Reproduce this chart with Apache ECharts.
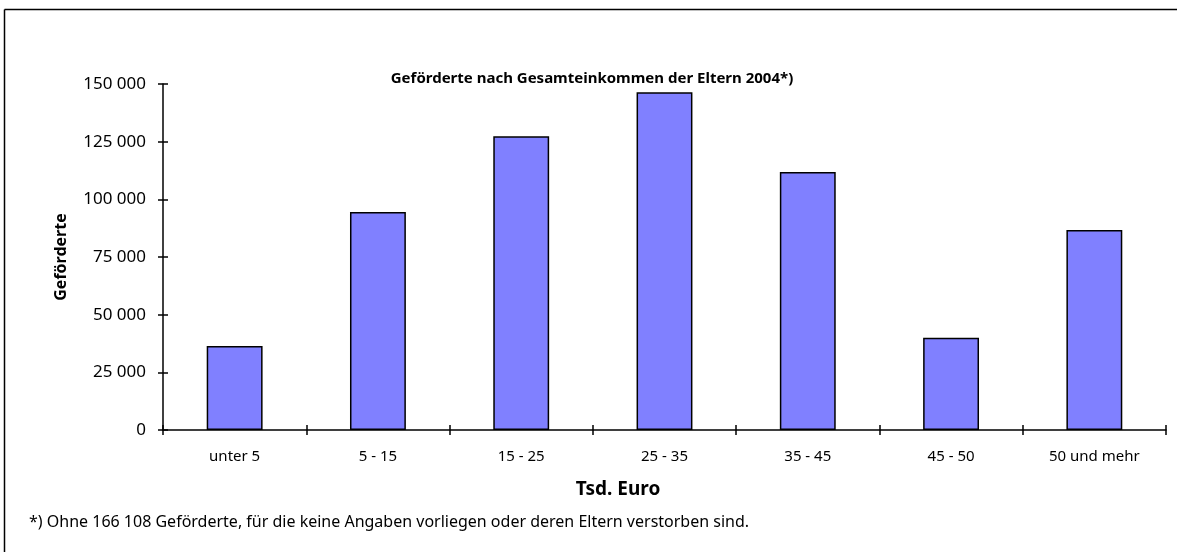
<!DOCTYPE html>
<html>
<head>
<meta charset="utf-8">
<script src="https://cdn.jsdelivr.net/npm/echarts@6/dist/echarts.min.js"></script>
<style>
html,body{margin:0;padding:0;background:#fff;}
#c{width:1177px;height:552px;}
</style>
</head>
<body>
<div id="c"></div>
<script>
const categories = ['unter 5', '5 - 15', '15 - 25', '25 - 35', '35 - 45', '45 - 50', '50 und mehr'];
const values = [36400, 94500, 127300, 146400, 111900, 40000, 86700];
const yTicks = [0, 25000, 50000, 75000, 100000, 125000, 150000];
const titleText = 'Geförderte nach Gesamteinkommen der Eltern 2004*)';
const yName = 'Geförderte';
const xName = 'Tsd. Euro';
const footnote = '*) Ohne 166 108 Geförderte, für die keine Angaben vorliegen oder deren Eltern verstorben sind.';

const FONT = '"Noto Sans", "Open Sans", sans-serif';
const fmt = v => String(v).replace(/\B(?=(\d{3})+(?!\d))/g, ' ');

const chart = echarts.init(document.getElementById('c'), null, {renderer: 'canvas'});
const yMin = yTicks[0], yMax = yTicks[yTicks.length - 1], yInt = yTicks[1] - yTicks[0];

chart.setOption({
  animation: false,
  backgroundColor: '#fff',
  textStyle: {fontFamily: FONT},
  title: {
    text: titleText,
    left: 587, top: 66, textAlign: 'center',
    textStyle: {fontSize: 15, fontWeight: 'bold', color: '#000', fontFamily: FONT}
  },
  grid: {left: 163, right: 11, top: 84, bottom: 122, containLabel: false},
  xAxis: [{
    type: 'category', data: categories,
    axisLine: {lineStyle: {color: '#000', width: 1.5}},
    axisTick: {show: true, length: 5, inside: false, lineStyle: {color: '#000', width: 1.5}},
    axisLabel: {color: '#000', fontSize: 15, margin: 19, fontFamily: FONT}
  }, {
    type: 'category', data: categories, position: 'bottom',
    axisLine: {show: false},
    axisTick: {show: true, length: 5, inside: true, lineStyle: {color: '#000', width: 1.5}},
    axisLabel: {show: false}
  }],
  yAxis: [{
    type: 'value', min: yMin, max: yMax, interval: yInt,
    axisLine: {show: true, lineStyle: {color: '#000', width: 1.5}},
    axisTick: {show: true, length: 5, lineStyle: {color: '#000', width: 1.5}},
    splitLine: {show: false},
    axisLabel: {color: '#000', fontSize: 17, margin: 17, formatter: fmt, fontFamily: FONT},
    name: yName, nameLocation: 'middle', nameGap: 94, nameRotate: 90,
    nameTextStyle: {fontSize: 16, fontWeight: 'bold', color: '#000', fontFamily: FONT}
  }, {
    type: 'value', min: yMin, max: yMax, interval: yInt, position: 'left',
    axisLine: {show: false},
    axisTick: {show: true, length: 5, inside: true, lineStyle: {color: '#000', width: 1.5}},
    splitLine: {show: false},
    axisLabel: {show: false}
  }],
  series: [{
    type: 'bar', data: values, barCategoryGap: '61%',
    itemStyle: {color: '#8080ff', borderColor: '#000', borderWidth: 1.5}
  }],
  graphic: [
    {type: 'line', shape: {x1: 4.5, y1: 9.5, x2: 1177, y2: 9.5}, style: {stroke: '#000', lineWidth: 1.5}, silent: true},
    {type: 'line', shape: {x1: 4.5, y1: 9.5, x2: 4.5, y2: 552}, style: {stroke: '#000', lineWidth: 1.5}, silent: true},
    {type: 'text', x: 618, y: 490, style: {text: xName, fontSize: 19, fontWeight: 'bold', fill: '#000', fontFamily: FONT, align: 'center', verticalAlign: 'middle'}},
    {type: 'text', x: 29, y: 522, style: {text: footnote, fontSize: 16, fill: '#000', fontFamily: FONT, align: 'left', verticalAlign: 'middle'}}
  ]
});
</script>
</body>
</html>
